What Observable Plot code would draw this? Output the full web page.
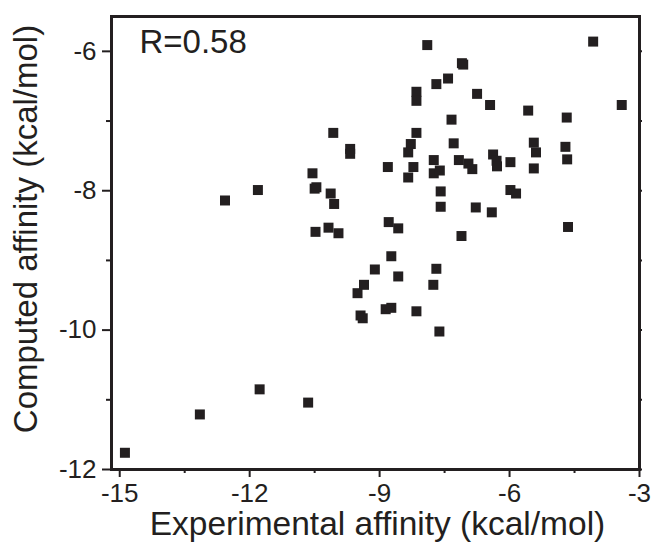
<!DOCTYPE html>
<html>
<head>
<meta charset="utf-8">
<script src="https://cdn.jsdelivr.net/npm/d3@7"></script>
<script src="https://cdn.jsdelivr.net/npm/@observablehq/plot@0.6"></script>
<style>
  html, body { margin: 0; padding: 0; background: #fff; }
  svg { display: block; }
</style>
</head>
<body>
<div id="chart"></div>
<script>
const experimental = [
  -10.07, -9.68, -9.68, -10.55, -10.50, -10.46, -10.13, -10.05, -11.81, -12.57,
  -10.48, -10.18, -9.95, -7.90, -4.07, -7.10, -7.07, -7.42, -7.69, -8.15,
  -8.15, -6.75, -6.45, -3.41, -5.57, -4.68, -7.34, -8.15, -8.28, -8.34,
  -7.29, -5.44, -5.39, -4.71, -4.67, -8.81, -8.22, -8.34, -7.75, -7.75,
  -7.61, -7.17, -6.95, -6.86, -6.38, -6.30, -6.29, -5.98, -5.44, -7.59,
  -5.98, -5.85, -7.59, -6.78, -6.41, -8.79, -8.57, -7.11, -4.65, -9.11,
  -9.36, -9.51, -9.44, -9.39, -11.77, -13.15, -10.65, -14.88, -8.73, -8.57,
  -7.69, -7.76, -8.86, -8.73, -8.15, -7.62
];
const computed = [
  -7.17, -7.40, -7.47, -7.75, -7.97, -7.95, -8.04, -8.19, -7.99, -8.14,
  -8.59, -8.53, -8.61, -5.91, -5.86, -6.17, -6.19, -6.39, -6.47, -6.58,
  -6.71, -6.61, -6.77, -6.77, -6.85, -6.95, -6.98, -7.17, -7.33, -7.45,
  -7.32, -7.31, -7.45, -7.37, -7.55, -7.66, -7.66, -7.81, -7.56, -7.75,
  -7.71, -7.56, -7.61, -7.69, -7.48, -7.57, -7.65, -7.59, -7.68, -8.01,
  -7.99, -8.04, -8.23, -8.24, -8.31, -8.45, -8.54, -8.65, -8.52, -9.13,
  -9.35, -9.47, -9.79, -9.83, -10.85, -11.21, -11.04, -11.76, -8.94, -9.23,
  -9.12, -9.35, -9.70, -9.68, -9.73, -10.02
];
const xTicks = [-15, -12, -9, -6, -3];
const xTickLabels = ["-15", "-12", "-9", "-6", "-3"];
const xMinorTicks = [-13.5, -10.5, -7.5, -4.5];
const yTicks = [-6, -8, -10, -12];
const yTickLabels = ["-6", "-8", "-10", "-12"];
const yMinorTicks = [-7, -9, -11];
const xTitle = ["Experimental affinity (kcal/mol)"];
const yTitle = ["Computed affinity (kcal/mol)"];
const annotation = ["R=0.58"];

const points = experimental.map((x, i) => ({x, y: computed[i]}));
const ink = "#231f20";
const font = "'Liberation Sans', Arial, sans-serif";

const chart = Plot.plot({
  width: 653,
  height: 550,
  marginLeft: 111,
  marginRight: 14,
  marginTop: 16,
  marginBottom: 81,
  style: {fontFamily: font, color: ink, background: "#fff"},
  x: {domain: [-15.19, -3]},
  y: {domain: [-12, -5.5]},
  marks: [
    Plot.axisX(xTicks, {anchor: "bottom", tickSize: 8, tickPadding: 6, strokeWidth: 2, stroke: ink, fill: ink,
      fontSize: 26, label: null, tickFormat: (d) => xTickLabels[xTicks.indexOf(d)]}),
    Plot.axisX(xMinorTicks, {anchor: "bottom", tickSize: 4, strokeWidth: 2, stroke: ink, text: null, label: null}),
    Plot.axisX(xTicks.concat(xMinorTicks), {anchor: "top", tickSize: 2, strokeWidth: 2, stroke: ink, text: null, label: null}),
    Plot.axisY(yTicks, {anchor: "left", tickSize: 9, tickPadding: 6, strokeWidth: 2, stroke: ink, fill: ink,
      fontSize: 26, label: null, tickFormat: (d) => yTickLabels[yTicks.indexOf(d)]}),
    Plot.axisY(yMinorTicks, {anchor: "left", tickSize: 5, strokeWidth: 2, stroke: ink, text: null, label: null}),
    Plot.axisY(yTicks.concat(yMinorTicks), {anchor: "right", tickSize: 2, strokeWidth: 2, stroke: ink, text: null, label: null}),
    Plot.frame({stroke: ink, strokeWidth: 3}),
    Plot.dot(points, {x: "x", y: "y", symbol: "square", r: 5.64, fill: ink, stroke: "none"}),
    Plot.text(annotation, {frameAnchor: "top-left", textAnchor: "start", lineAnchor: "top", dx: 28, dy: 13,
      fontSize: 33, fill: ink}),
    Plot.text(xTitle, {frameAnchor: "bottom", textAnchor: "middle", lineAnchor: "middle", dx: 2, dy: 55, fontSize: 33.5, fill: ink}),
    Plot.text(yTitle, {frameAnchor: "left", textAnchor: "middle", lineAnchor: "middle", rotate: -90, dx: -85, dy: -14, fontSize: 33, fill: ink})
  ]
});
document.getElementById("chart").appendChild(chart);
</script>
</body>
</html>
